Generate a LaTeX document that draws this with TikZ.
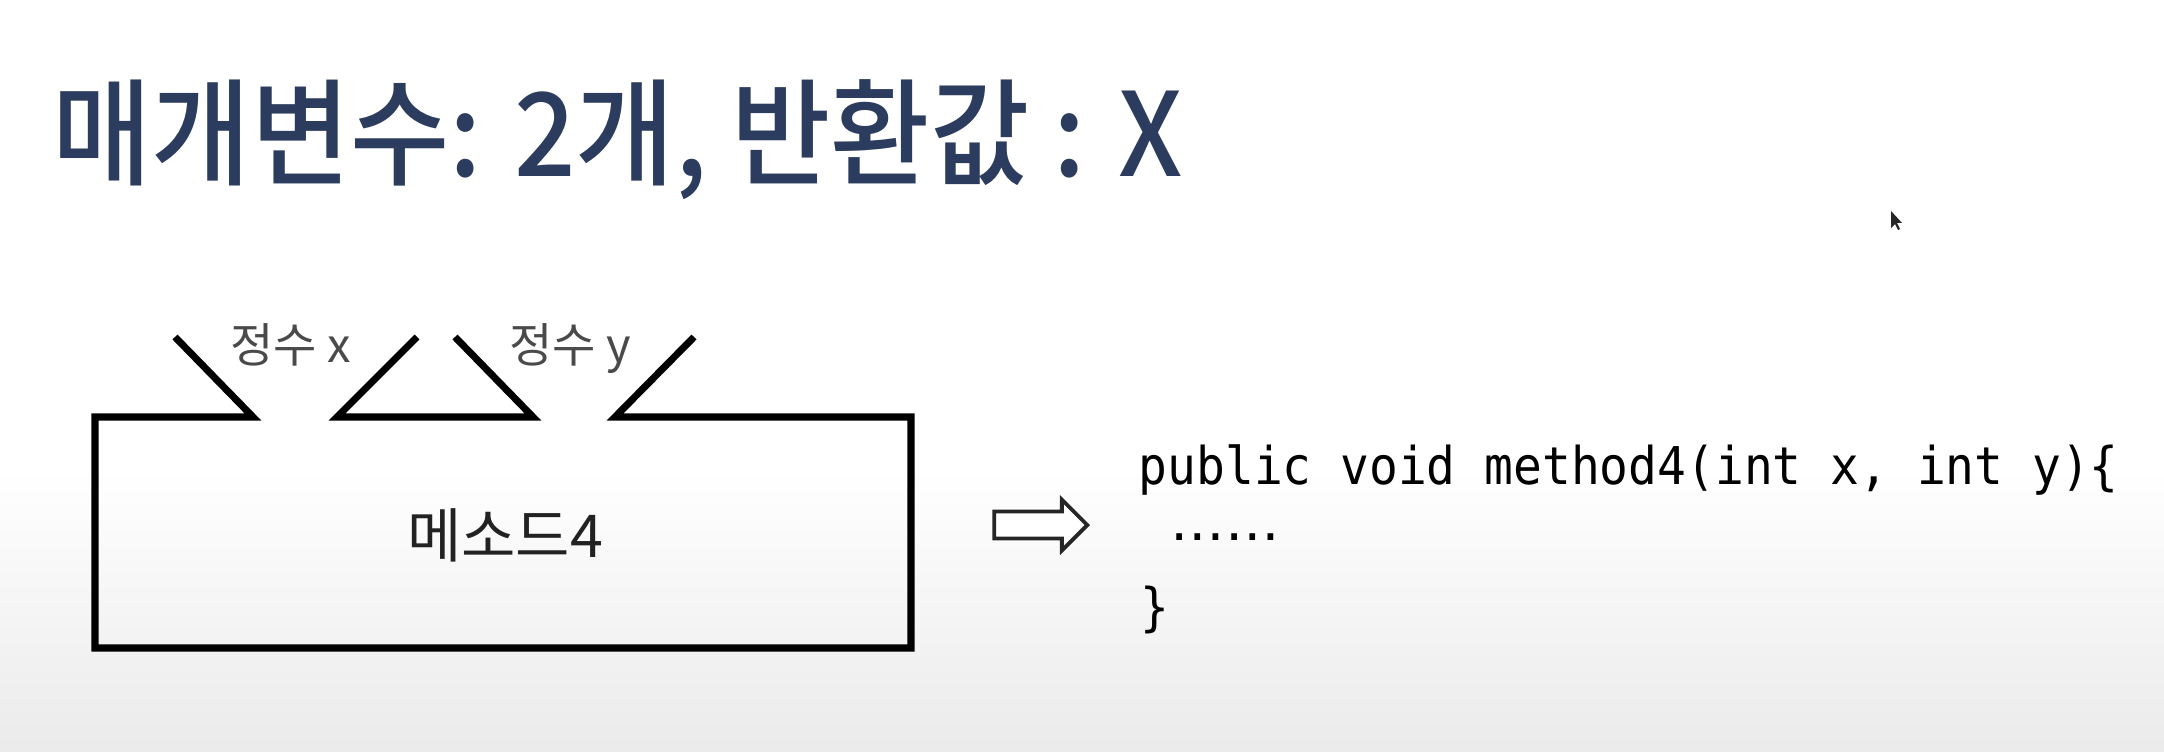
\documentclass[tikz,border=0pt]{standalone}
\usepackage{fontspec}
\usepackage{xcolor}
\usepackage{tikz}
\usetikzlibrary{
  arrows.meta,
  positioning,
  shapes.arrows
}
\newfontfamily\titlefont[FakeStretch=0.93]{Noto Sans CJK KR Medium}
\newfontfamily\krfont{Noto Sans CJK KR}
\newfontfamily\codefont[FakeStretch=0.92]{DejaVu Sans Mono}
\newfontfamily\dotfont{DejaVu Sans}
\definecolor{titlecolor}{HTML}{2C3C5E}
\definecolor{paramcolor}{HTML}{4A4A4A}
\definecolor{boxtext}{HTML}{222222}

\begin{document}
\begin{tikzpicture}[
  x=0.01cm, y=-0.01cm,
  title/.style={
    anchor=base west, inner sep=0pt, text=titlecolor,
    font=\titlefont\fontsize{33pt}{38pt}\selectfont
  },
  param/.style={
    anchor=base, inner sep=0pt, text=paramcolor,
    font=\krfont\fontsize{13.4pt}{16pt}\selectfont
  },
  methodlbl/.style={
    anchor=base, inner sep=0pt, text=boxtext,
    font=\krfont\fontsize{16.8pt}{20pt}\selectfont
  },
  codeline/.style={
    anchor=base west, inner sep=0pt, text=black,
    font=\codefont\fontsize{14.8pt}{18pt}\selectfont
  },
  outline/.style={line width=2pt, black},
  implies/.style={
    single arrow, draw=black!85, fill=white, line width=1.1pt,
    minimum height=0.93cm, inner sep=0.115cm,
    single arrow head extend=0.12cm
  }
]

  % ── Page and background ──
  \useasboundingbox (0,0) rectangle (2164,752);
  \fill[white] (0,0) rectangle (2164,752);
  \shade[top color=white, bottom color=black!8] (0,470) rectangle (2164,752);

  % ── Title ──
  \node[title] (heading) at (52,177) {매개변수: 2개, 반환값 : X};

  % ── Method box with two parameter inlets ──
  \draw[outline] (175,337) -- (253,417) -- (95,417) -- (95,648)
    -- (911,648) -- (911,417) -- (615,417) -- (694,337);
  \draw[outline] (417,337) -- (337,417) -- (533,417) -- (455,337);

  \node[param] (px) at (291,363) {정수 x};
  \node[param] (py) at (570,363) {정수 y};
  \node[methodlbl] (method) at (505,557) {메소드4};

  % ── Arrow to the code ──
  \node[implies] (toCode) at (1034,525) {};

  % ── Java signature ──
  \node[codeline] (sig) at (1138,485) {public void method4(int x, int y)\{};
  \node[anchor=base west, inner sep=0pt, font=\dotfont\fontsize{15.5pt}{18pt}\selectfont]
    (body) at (1170,540) {……};
  \node[codeline] (close) at (1140,625) {\}};

  % ── Mouse pointer ──
  \fill[black!85] (1891,211) -- (1891,228) -- (1895,224) -- (1898,230)
    -- (1900,229) -- (1897,223) -- (1902,223) -- cycle;

\end{tikzpicture}
\end{document}
